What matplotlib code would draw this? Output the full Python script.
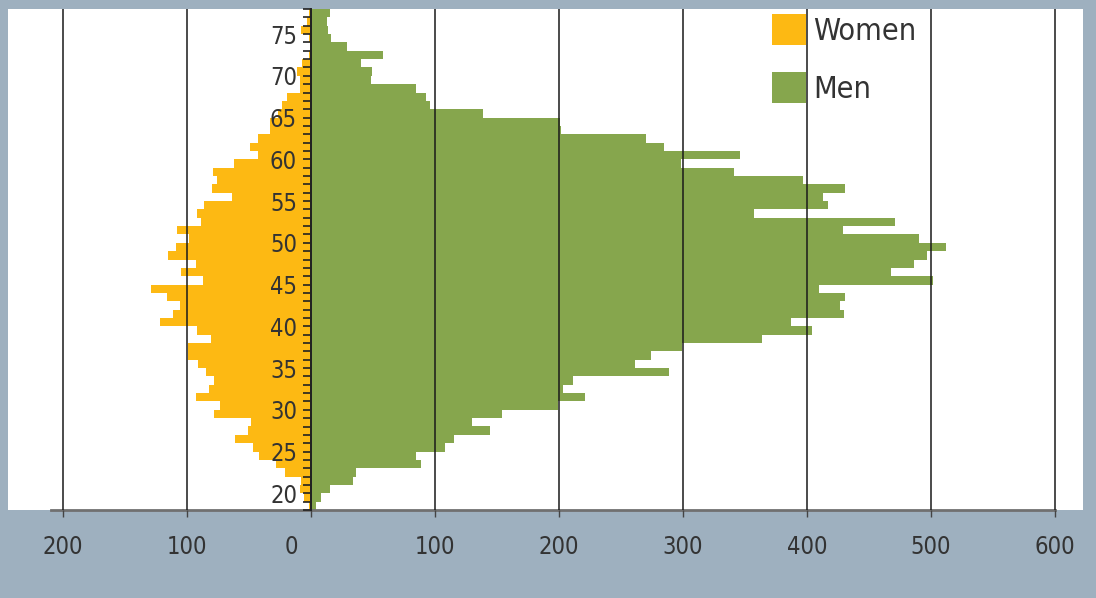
import matplotlib
matplotlib.use("Agg")
import matplotlib.pyplot as plt
import matplotlib.transforms as mtransforms
import numpy as np

ages = list(range(18, 78))
men = [4, 8, 15, 34, 36, 89, 85, 108, 115, 144,
       130, 154, 199, 221, 203, 211, 289, 261, 274, 299,
       364, 404, 387, 430, 427, 431, 410, 502, 468, 486,
       497, 512, 490, 429, 471, 357, 417, 413, 431, 397,
       341, 298, 346, 285, 270, 202, 201, 139, 96, 93,
       85, 48, 49, 40, 58, 29, 16, 14, 13, 15]
women = [2, 6, 9, 8, 21, 28, 42, 47, 61, 51,
         48, 78, 73, 93, 82, 78, 85, 91, 99, 99,
         81, 92, 122, 111, 106, 116, 129, 87, 105, 93,
         115, 109, 98, 108, 89, 92, 86, 64, 80, 76,
         79, 62, 43, 49, 43, 33, 33, 27, 23, 19,
         9, 9, 11, 7, 2, 1, 2, 8, 3, 2]
x_ticks = [-200, -100, 0, 100, 200, 300, 400, 500, 600]
x_labels = ["200", "100", "0", "100", "200", "300", "400", "500", "600"]
y_labels = [20, 25, 30, 35, 40, 45, 50, 55, 60, 65, 70, 75]
series_names = ["Women", "Men"]

ORANGE = "#FDB913"
GREEN = "#86A64D"
BG = "#9EB0BF"
TXT = "#333333"

plt.rcParams['font.family'] = ['DejaVu Sans']
plt.rcParams['font.stretch'] = 'condensed'

W, H = 1096, 598
fig = plt.figure(figsize=(W / 100, H / 100), dpi=100, facecolor=BG)
left, right, top, bottom = 8, 1083, 9, 510
ax = fig.add_axes([left / W, (H - bottom) / H, (right - left) / W, (bottom - top) / H])
ax.set_facecolor("white")

ax.barh(ages, [-w for w in women], height=1, align='edge', color=ORANGE, linewidth=0, label=series_names[0])
ax.barh(ages, men, height=1, align='edge', color=GREEN, linewidth=0, label=series_names[1])

px = 1.24  # pixels per unit
ax.set_xlim(-200 - (63 - left) / px, 600 + (right - 1055) / px)
ax.set_ylim(18, 78)

ax.set_xticks(x_ticks)
ax.set_xticklabels(x_labels)
ax.set_yticks(y_labels)
ax.set_yticks(np.arange(18, 79), minor=True)

ax.grid(axis='x', color='#1a1a1a', linewidth=1.1)
ax.set_axisbelow(False)

for s in ['top', 'right']:
    ax.spines[s].set_visible(False)
ax.spines['left'].set_position(('data', 0))
ax.spines['left'].set_color('#222222')
ax.spines['left'].set_linewidth(1.4)
ax.spines['left'].set_zorder(3)
ax.spines['bottom'].set_bounds(-210, 600)
ax.spines['bottom'].set_color('#707070')
ax.spines['bottom'].set_linewidth(2)

ax.tick_params(axis='y', which='both', direction='out', length=6, width=1.2, color='#222222',
               labelsize=17, labelcolor=TXT, pad=4)
ax.tick_params(axis='x', which='major', direction='out', length=5, width=1, color='#444444',
               labelsize=17, labelcolor=TXT, pad=13)

# shift the "0" label left like the original
for lbl in ax.get_xticklabels():
    if lbl.get_text() == "0":
        lbl.set_transform(lbl.get_transform() + mtransforms.ScaledTranslation(-20 / 100, 0, fig.dpi_scale_trans))

leg = ax.legend(loc='upper left', bbox_to_anchor=((772 - left) / (right - left), 1 - (14 - top) / (bottom - top)),
                frameon=False, fontsize=22, handlelength=1.1, handleheight=1.2,
                handletextpad=0.25, labelspacing=0.85, borderpad=0, borderaxespad=0)
for t in leg.get_texts():
    t.set_color(TXT)

fig.savefig("out.png", dpi=100, facecolor=BG)
